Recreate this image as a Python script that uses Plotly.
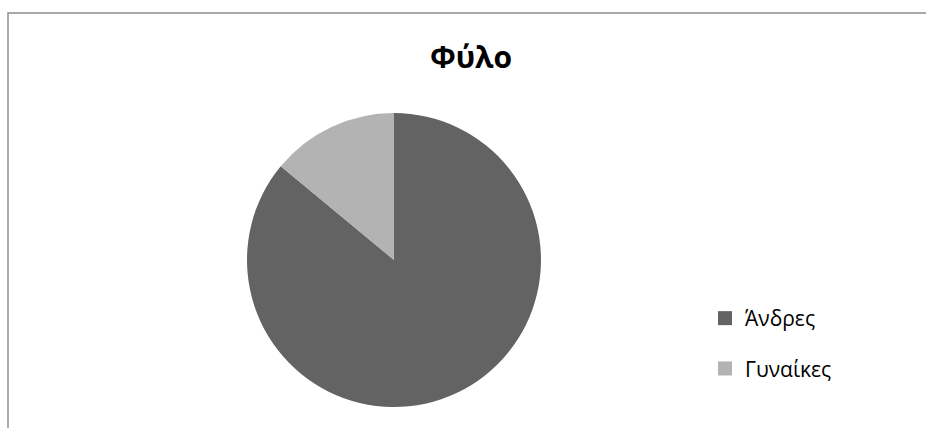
import plotly.graph_objects as go

categories = ["Άνδρες", "Γυναίκες"]
values = [86, 14]
colors = ["#636363", "#b3b3b3"]
title_text = "Φύλο"

W, H = 926, 428

fig = go.Figure()
fig.add_trace(go.Pie(
    labels=categories, values=values, sort=False, direction="clockwise", rotation=0,
    marker=dict(colors=colors, line=dict(width=0)), textinfo="none", hoverinfo="label+percent",
    showlegend=False,
    domain=dict(x=[247 / W, 541 / W], y=[(H - 407) / H, (H - 113) / H]),
))
for i, (c, col) in enumerate(zip(categories, colors)):
    fig.add_trace(go.Scatter(
        x=[None], y=[None], mode="markers", name=c, legendgroup=f"g{i}",
        marker=dict(symbol="square", size=14, color=col),
    ))

fig.update_layout(
    width=W, height=H,
    margin=dict(l=0, r=0, t=0, b=0),
    paper_bgcolor="white", plot_bgcolor="white",
    xaxis=dict(visible=False), yaxis=dict(visible=False),
    title=dict(text="<b>" + title_text + "</b>", x=471 / W, xanchor="center",
               y=1 - 57 / H, yanchor="middle",
               font=dict(family="Open Sans", size=30, color="black")),
    legend=dict(x=705 / W, xanchor="left", y=1 - 298 / H, yanchor="top",
                font=dict(family="Open Sans", size=21, color="black"),
                tracegroupgap=20, itemwidth=30, bgcolor="rgba(0,0,0,0)"),
    shapes=[dict(type="rect", xref="paper", yref="paper",
                 x0=8 / W, x1=1.05, y0=-0.05, y1=1 - 13 / H,
                 line=dict(color="#8f8f8f", width=1.5))],
)
fig.write_html("out.html")
